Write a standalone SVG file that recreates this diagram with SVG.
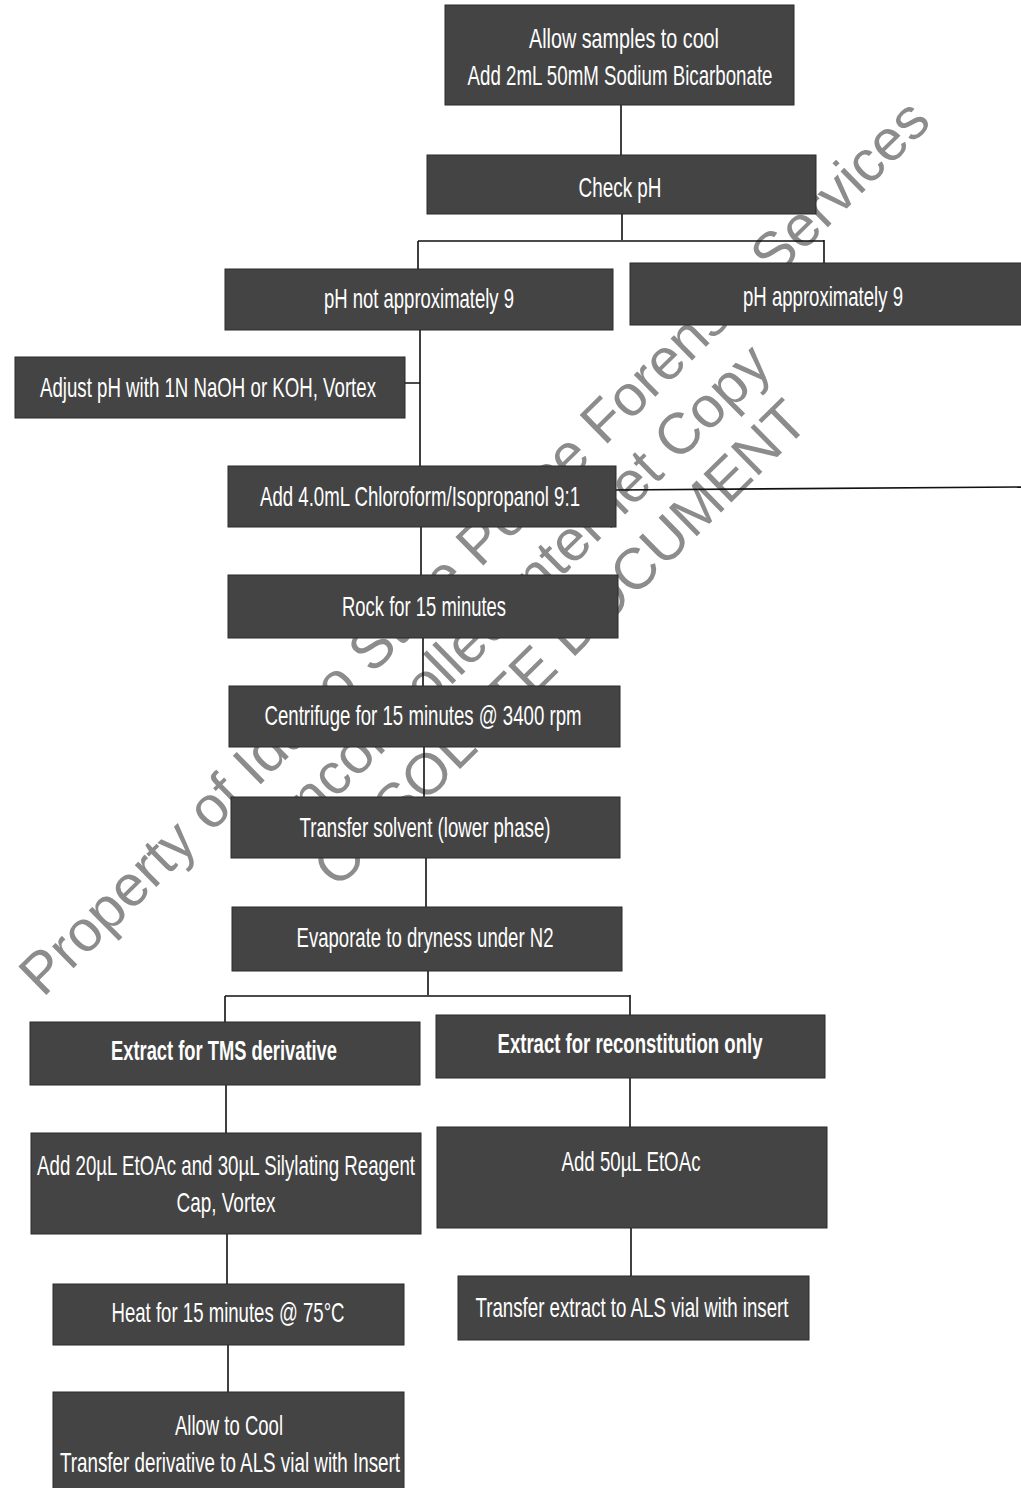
<svg xmlns="http://www.w3.org/2000/svg" width="1021" height="1488" viewBox="0 0 1021 1488">
<style>
.bx{fill:#444444;stroke:#2a2a2a;stroke-width:1}
.t{fill:#ffffff;font-family:"Liberation Sans Narrow","Liberation Sans",Arial,sans-serif;font-size:28px;text-anchor:middle}
.b{font-weight:bold}
.c{stroke:#111;stroke-width:1.6;fill:none}
.wm{fill:#8c8c8c;font-family:"Liberation Sans",Arial,sans-serif;font-size:58px;text-anchor:middle}
</style>
<rect width="1021" height="1488" fill="#ffffff"/>
<g id="watermark">
<text class="wm" transform="translate(488,561) rotate(-44.5)">Property of Idaho State Police Forensic Services</text>
<text class="wm" transform="translate(528,610) rotate(-44.5)">Uncontrolled Internet Copy</text>
<text class="wm" transform="translate(574,657) rotate(-44.5)">OBSOLETE DOCUMENT</text>
</g>
<g id="connectors">
<path class="c" d="M621,104V155"/>
<path class="c" d="M622,214V240M418,241H824M418,241V269M824,240V263"/>
<path class="c" d="M420,330V466M405,383H420"/>
<path class="c" d="M616,490L1021,487"/>
<path class="c" d="M421,527V575"/>
<path class="c" d="M423,638V686"/>
<path class="c" d="M424,747V797"/>
<path class="c" d="M426,858V907"/>
<path class="c" d="M428,971V995M225,996H630M225,996V1022M630,995V1015"/>
<path class="c" d="M226,1085V1133"/>
<path class="c" d="M630,1078V1127"/>
<path class="c" d="M227,1234V1284"/>
<path class="c" d="M631,1228V1276"/>
<path class="c" d="M228,1345V1392"/>
</g>
<g id="n1"><rect class="bx" x="445" y="5" width="349" height="100"/>
<text class="t" x="624" y="48" textLength="190" lengthAdjust="spacingAndGlyphs">Allow samples to cool</text>
<text class="t" x="620" y="85" textLength="305" lengthAdjust="spacingAndGlyphs">Add 2mL 50mM Sodium Bicarbonate</text></g>
<g id="n2"><rect class="bx" x="427" y="155" width="389" height="59"/>
<text class="t" x="620" y="197" textLength="83" lengthAdjust="spacingAndGlyphs">Check pH</text></g>
<g id="n3"><rect class="bx" x="225" y="269" width="388" height="61"/>
<text class="t" x="419" y="308" textLength="190" lengthAdjust="spacingAndGlyphs">pH not approximately 9</text></g>
<g id="n4"><rect class="bx" x="630" y="263" width="395" height="62"/>
<text class="t" x="823" y="306" textLength="160" lengthAdjust="spacingAndGlyphs">pH approximately 9</text></g>
<g id="n5"><rect class="bx" x="15" y="357" width="390" height="61"/>
<text class="t" x="208" y="397" textLength="336" lengthAdjust="spacingAndGlyphs">Adjust pH with 1N NaOH or KOH, Vortex</text></g>
<g id="n6"><rect class="bx" x="228" y="466" width="388" height="61"/>
<text class="t" x="420" y="506" textLength="320" lengthAdjust="spacingAndGlyphs">Add 4.0mL Chloroform/Isopropanol 9:1</text></g>
<g id="n7"><rect class="bx" x="228" y="575" width="390" height="63"/>
<text class="t" x="424" y="616" textLength="164" lengthAdjust="spacingAndGlyphs">Rock for 15 minutes</text></g>
<g id="n8"><rect class="bx" x="229" y="686" width="391" height="61"/>
<text class="t" x="423" y="725" textLength="317" lengthAdjust="spacingAndGlyphs">Centrifuge for 15 minutes @ 3400 rpm</text></g>
<g id="n9"><rect class="bx" x="231" y="797" width="389" height="61"/>
<text class="t" x="425" y="837" textLength="251" lengthAdjust="spacingAndGlyphs">Transfer solvent (lower phase)</text></g>
<g id="n10"><rect class="bx" x="232" y="907" width="390" height="64"/>
<text class="t" x="425" y="947" textLength="257" lengthAdjust="spacingAndGlyphs">Evaporate to dryness under N2</text></g>
<g id="n11"><rect class="bx" x="30" y="1022" width="390" height="63"/>
<text class="t b" x="224" y="1060" textLength="226" lengthAdjust="spacingAndGlyphs">Extract for TMS derivative</text></g>
<g id="n12"><rect class="bx" x="436" y="1015" width="389" height="63"/>
<text class="t b" x="630" y="1053" textLength="265" lengthAdjust="spacingAndGlyphs">Extract for reconstitution only</text></g>
<g id="n13"><rect class="bx" x="31" y="1133" width="390" height="101"/>
<text class="t" x="226" y="1175" textLength="378" lengthAdjust="spacingAndGlyphs">Add 20µL EtOAc and 30µL Silylating Reagent</text>
<text class="t" x="226" y="1212" textLength="99" lengthAdjust="spacingAndGlyphs">Cap, Vortex</text></g>
<g id="n14"><rect class="bx" x="437" y="1127" width="390" height="101"/>
<text class="t" x="631" y="1171" textLength="139" lengthAdjust="spacingAndGlyphs">Add 50µL EtOAc</text></g>
<g id="n15"><rect class="bx" x="53" y="1284" width="351" height="61"/>
<text class="t" x="228" y="1322" textLength="233" lengthAdjust="spacingAndGlyphs">Heat for 15 minutes @ 75°C</text></g>
<g id="n16"><rect class="bx" x="458" y="1276" width="351" height="64"/>
<text class="t" x="632" y="1317" textLength="313" lengthAdjust="spacingAndGlyphs">Transfer extract to ALS vial with insert</text></g>
<g id="n17"><rect class="bx" x="53" y="1392" width="351" height="100"/>
<text class="t" x="229" y="1435" textLength="108" lengthAdjust="spacingAndGlyphs">Allow to Cool</text>
<text class="t" x="230" y="1472" textLength="340" lengthAdjust="spacingAndGlyphs">Transfer derivative to ALS vial with Insert</text></g>
</svg>
